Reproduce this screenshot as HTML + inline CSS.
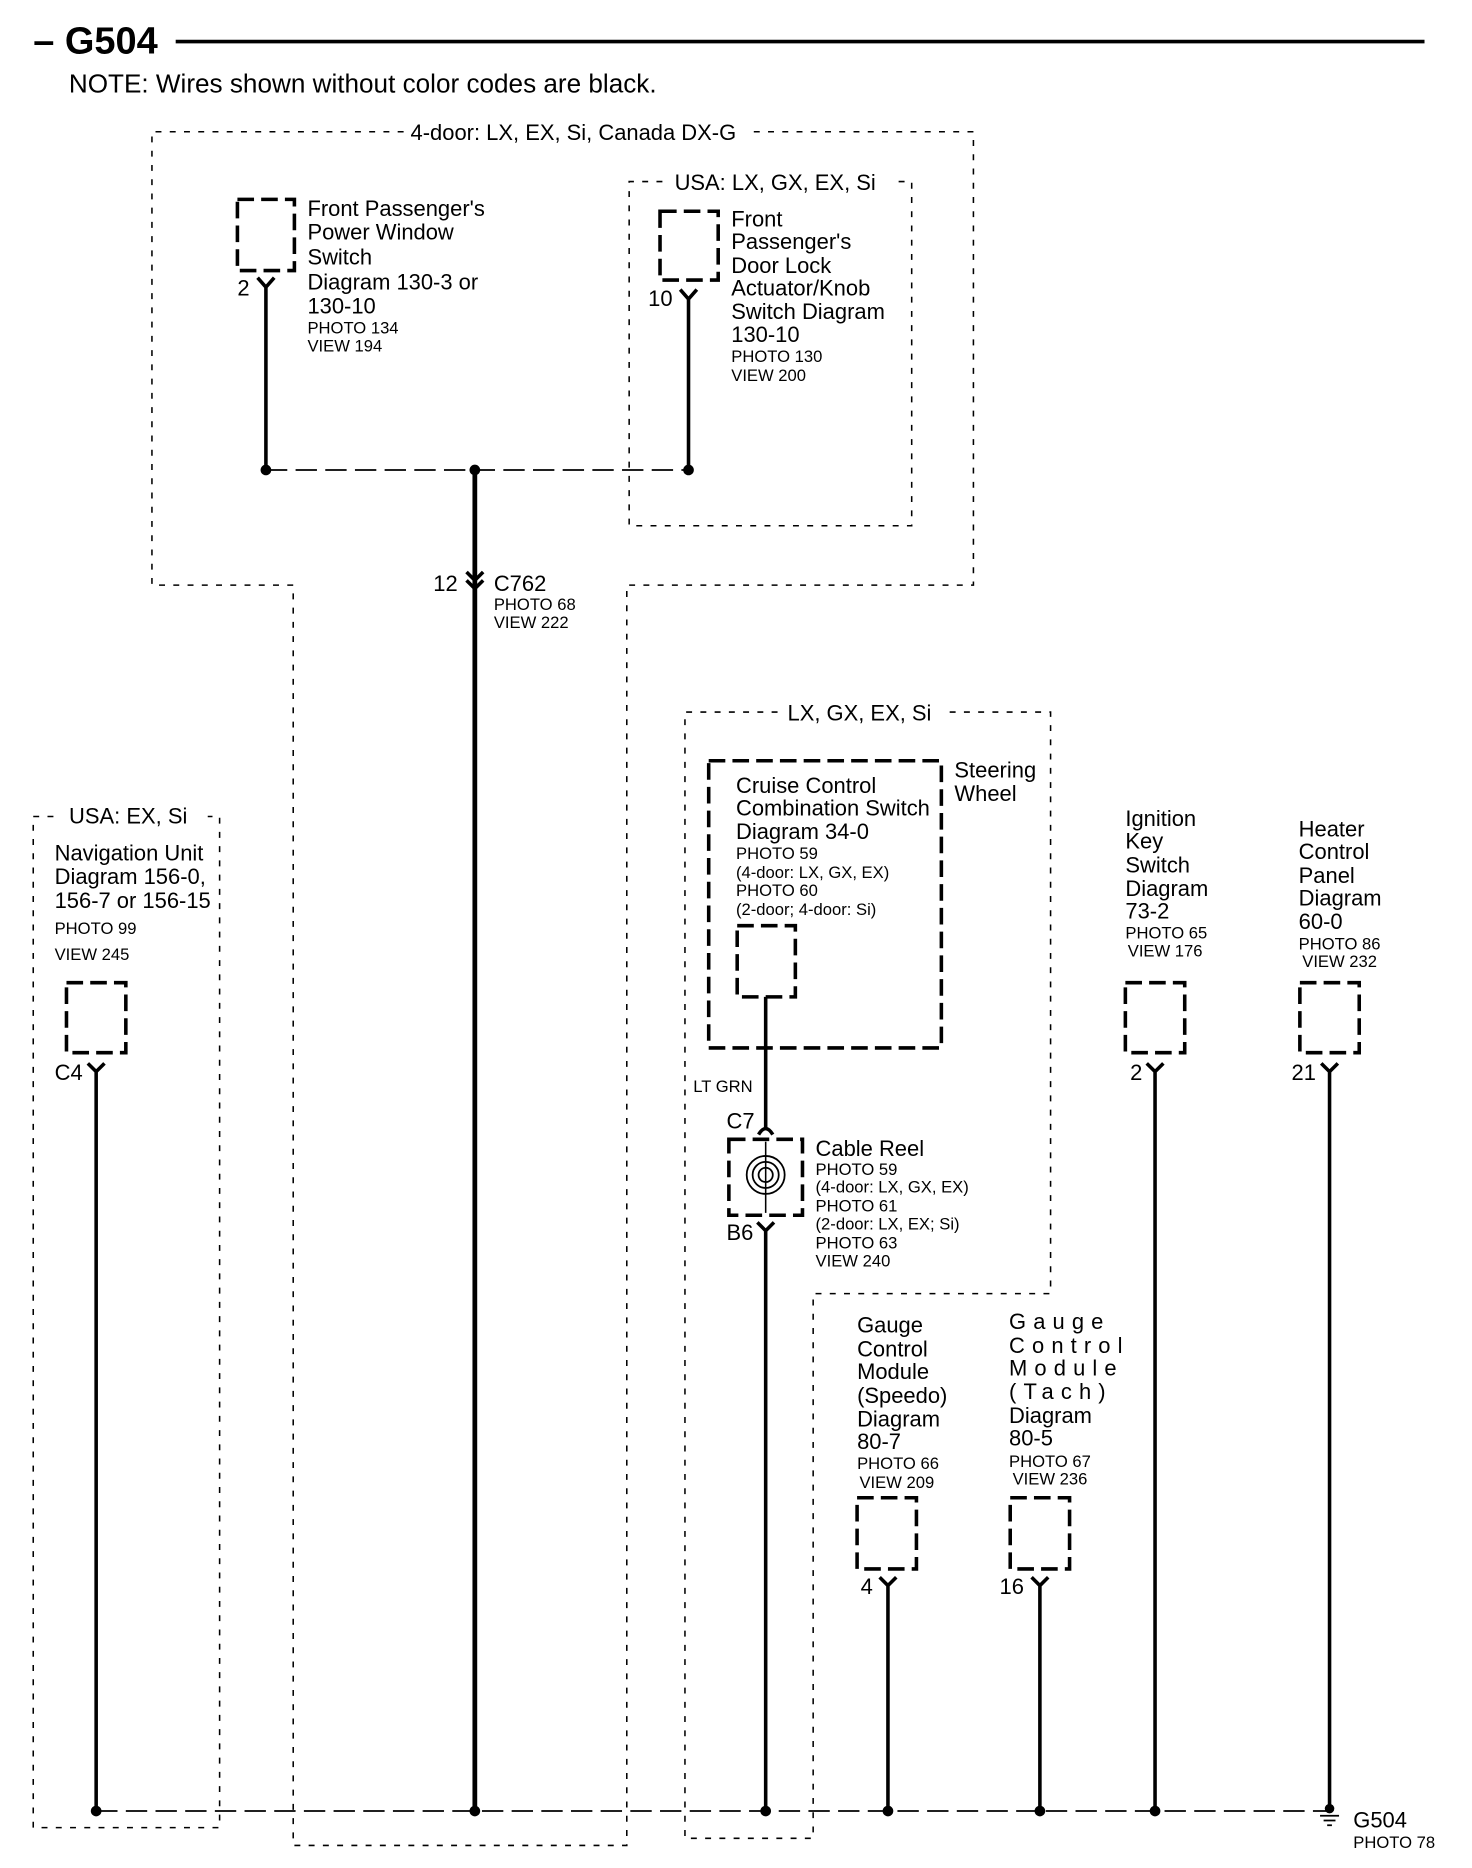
<!DOCTYPE html>
<html><head><meta charset="utf-8"><style>
html,body{margin:0;padding:0;background:#fff;}
svg{display:block;}
text{font-family:"Liberation Sans",sans-serif;fill:#000;}
.m{font-size:18.5px;}
.s{font-size:14px;}
.d{fill:none;stroke:#000;stroke-width:1.3;stroke-dasharray:5,7;}
.c{fill:none;stroke:#000;stroke-width:3;stroke-dasharray:14,6;}
.w{stroke:#000;stroke-width:4;fill:none;}
.b{stroke:#000;stroke-width:1.5;stroke-dasharray:18,7;fill:none;}
.y{stroke:#000;stroke-width:3;fill:none;}
</style></head><body>
<svg width="1472" height="1868" viewBox="0 0 1240 1574" preserveAspectRatio="none" xmlns="http://www.w3.org/2000/svg">
<!-- title -->
<text x="28" y="45" font-size="32" font-weight="bold">– G504</text>
<line x1="148" y1="35" x2="1200" y2="35" stroke="#000" stroke-width="3"/>
<text x="58" y="78" font-size="22">NOTE: Wires shown without color codes are black.</text>

<!-- big 4-door box -->
<path class="d" d="M340,111 H128 V493 H247 V1555 H528 V493 H820 V111 H630"/>
<text x="483" y="118" class="m" text-anchor="middle">4-door: LX, EX, Si, Canada DX-G</text>
<!-- USA LX GX box -->
<path class="d" d="M558,153 H530 V443 H768 V153 H755"/>
<text x="653" y="160" class="m" text-anchor="middle">USA: LX, GX, EX, Si</text>

<!-- power window switch -->
<rect x="200" y="168" width="48" height="60" class="c"/>
<path class="y" d="M217,234 L224,242 L231,234 M224,242 V396"/>
<text x="200" y="249" class="m">2</text>
<text class="m" x="259"><tspan x="259" y="182">Front Passenger's</tspan><tspan x="259" y="202">Power Window</tspan><tspan x="259" y="223">Switch</tspan><tspan x="259" y="244">Diagram 130-3 or</tspan><tspan x="259" y="264">130-10</tspan></text>
<text class="s" x="259" y="281">PHOTO 134</text><text class="s" x="259" y="296">VIEW 194</text>

<!-- door lock -->
<rect x="556" y="178" width="49" height="58" class="c"/>
<path class="y" d="M573,244 L580,252 L587,244 M580,252 V396"/>
<text x="546" y="258" class="m">10</text>
<text class="m"><tspan x="616" y="191">Front</tspan><tspan x="616" y="210">Passenger's</tspan><tspan x="616" y="230">Door Lock</tspan><tspan x="616" y="249">Actuator/Knob</tspan><tspan x="616" y="269">Switch Diagram</tspan><tspan x="616" y="288">130-10</tspan></text>
<text class="s" x="616" y="305">PHOTO 130</text><text class="s" x="616" y="321">VIEW 200</text>

<!-- top splice -->
<line class="b" x1="224" y1="396" x2="580" y2="396"/>
<circle cx="224" cy="396" r="4.5"/><circle cx="400" cy="396" r="4.5"/><circle cx="580" cy="396" r="4.5"/>
<line class="w" x1="400" y1="396" x2="400" y2="1526"/>
<path class="y" d="M393,482 L400,489 L407,482 M393,489 L400,496 L407,489" stroke-width="2.5"/>
<text x="365" y="498" class="m">12</text>
<text x="416" y="498" class="m">C762</text>
<text class="s" x="416" y="514">PHOTO 68</text><text class="s" x="416" y="529">VIEW 222</text>

<!-- nav box -->
<path class="d" d="M45,688 H28 V1540 H185 V688 H175"/>
<text x="108" y="694" class="m" text-anchor="middle">USA: EX, Si</text>
<text class="m"><tspan x="46" y="725">Navigation Unit</tspan><tspan x="46" y="745">Diagram 156-0,</tspan><tspan x="46" y="765">156-7 or 156-15</tspan></text>
<text class="s" x="46" y="787">PHOTO 99</text><text class="s" x="46" y="809">VIEW 245</text>
<rect x="56" y="828" width="50" height="59" class="c"/>
<path class="y" d="M74,896 L81,903 L88,896 M81,903 V1526"/>
<text x="46" y="910" class="m">C4</text>

<!-- LX GX EX Si box -->
<path class="d" d="M655,600 H577 V1549 H685 V1090 H885 V600 H795"/>
<text x="724" y="607" class="m" text-anchor="middle">LX, GX, EX, Si</text>
<rect x="597" y="641" width="196" height="242" class="c"/>
<text class="m"><tspan x="620" y="668">Cruise Control</tspan><tspan x="620" y="687">Combination Switch</tspan><tspan x="620" y="707">Diagram 34-0</tspan></text>
<text class="s"><tspan x="620" y="724">PHOTO 59</tspan><tspan x="620" y="740">(4-door: LX, GX, EX)</tspan><tspan x="620" y="755">PHOTO 60</tspan><tspan x="620" y="771">(2-door; 4-door: Si)</tspan></text>
<text class="m"><tspan x="804" y="655">Steering</tspan><tspan x="804" y="675">Wheel</tspan></text>
<rect x="621" y="780" width="49" height="60" class="c"/>
<line x1="645" y1="840" x2="645" y2="950" stroke="#000" stroke-width="3"/>
<text class="s" x="584" y="920">LT GRN</text>
<text class="m" x="612" y="951">C7</text>
<path class="y" d="M639,956 Q645,946 651,956" stroke-width="2.5"/>
<rect x="614" y="960" width="62" height="64" class="c" stroke-width="2.5"/>
<circle cx="645" cy="990" r="16" fill="none" stroke="#000" stroke-width="1.5"/>
<circle cx="645" cy="990" r="11" fill="none" stroke="#000" stroke-width="1.5"/>
<circle cx="645" cy="990" r="6" fill="none" stroke="#000" stroke-width="1.5"/>
<line x1="645" y1="962" x2="645" y2="1022" stroke="#000" stroke-width="1.3"/>
<path class="y" d="M638,1030 L645,1037 L652,1030 M645,1037 V1526"/>
<text class="m" x="612" y="1045">B6</text>
<text class="m" x="687" y="974">Cable Reel</text>
<text class="s"><tspan x="687" y="990">PHOTO 59</tspan><tspan x="687" y="1005">(4-door: LX, GX, EX)</tspan><tspan x="687" y="1021">PHOTO 61</tspan><tspan x="687" y="1036">(2-door: LX, EX; Si)</tspan><tspan x="687" y="1052">PHOTO 63</tspan><tspan x="687" y="1067">VIEW 240</tspan></text>

<!-- gauge speedo -->
<text class="m"><tspan x="722" y="1123">Gauge</tspan><tspan x="722" y="1143">Control</tspan><tspan x="722" y="1162">Module</tspan><tspan x="722" y="1182">(Speedo)</tspan><tspan x="722" y="1202">Diagram</tspan><tspan x="722" y="1221">80-7</tspan></text>
<text class="s" x="722" y="1238">PHOTO 66</text><text class="s" x="724" y="1254">VIEW 209</text>
<rect x="722" y="1262" width="50" height="60" class="c"/>
<path class="y" d="M741,1329 L748,1336 L755,1329 M748,1336 V1526"/>
<text class="m" x="725" y="1343">4</text>

<!-- gauge tach -->
<text class="m" letter-spacing="6"><tspan x="850" y="1120">Gauge</tspan><tspan x="850" y="1140">Control</tspan><tspan x="850" y="1159">Module</tspan><tspan x="850" y="1179">(Tach)</tspan></text>
<text class="m"><tspan x="850" y="1199">Diagram</tspan><tspan x="850" y="1218">80-5</tspan></text>
<text class="s" x="850" y="1236">PHOTO 67</text><text class="s" x="853" y="1251">VIEW 236</text>
<rect x="851" y="1262" width="50" height="60" class="c"/>
<path class="y" d="M869,1329 L876,1336 L883,1329 M876,1336 V1526"/>
<text class="m" x="842" y="1343">16</text>

<!-- ignition key -->
<text class="m"><tspan x="948" y="696">Ignition</tspan><tspan x="948" y="715">Key</tspan><tspan x="948" y="735">Switch</tspan><tspan x="948" y="755">Diagram</tspan><tspan x="948" y="774">73-2</tspan></text>
<text class="s" x="948" y="791">PHOTO 65</text><text class="s" x="950" y="806">VIEW 176</text>
<rect x="948" y="828" width="50" height="59" class="c"/>
<path class="y" d="M966,896 L973,903 L980,896 M973,903 V1526"/>
<text class="m" x="952" y="910">2</text>

<!-- heater -->
<text class="m"><tspan x="1094" y="705">Heater</tspan><tspan x="1094" y="724">Control</tspan><tspan x="1094" y="744">Panel</tspan><tspan x="1094" y="763">Diagram</tspan><tspan x="1094" y="783">60-0</tspan></text>
<text class="s" x="1094" y="800">PHOTO 86</text><text class="s" x="1097" y="815">VIEW 232</text>
<rect x="1095" y="828" width="50" height="59" class="c"/>
<path class="y" d="M1113,896 L1120,903 L1127,896 M1120,903 V1526"/>
<text class="m" x="1088" y="910">21</text>

<!-- bottom bus -->
<line class="b" x1="81" y1="1526" x2="1120" y2="1526"/>
<circle cx="81" cy="1526" r="4.5"/><circle cx="400" cy="1526" r="4.5"/><circle cx="645" cy="1526" r="4.5"/><circle cx="748" cy="1526" r="4.5"/><circle cx="876" cy="1526" r="4.5"/><circle cx="973" cy="1526" r="4.5"/><circle cx="1120" cy="1524" r="4"/>
<path d="M1112,1530 H1128 M1115,1534 H1125 M1118,1538 H1122" stroke="#000" stroke-width="1.5"/>
<text class="m" x="1140" y="1540">G504</text>
<text class="s" x="1140" y="1557">PHOTO 78</text>
</svg>
</body></html>
